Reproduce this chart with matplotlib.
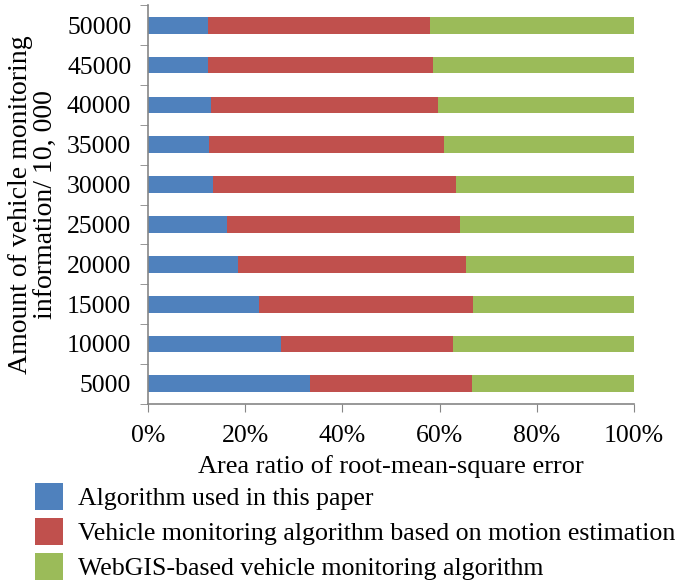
import matplotlib.pyplot as plt
import numpy as np
from matplotlib.patches import Patch

plt.rcParams['font.family'] = ['Liberation Serif', 'DejaVu Serif']

amounts = ['5000', '10000', '15000', '20000', '25000', '30000', '35000', '40000', '45000', '50000']
# shares in percent
ours = [33.3, 27.3, 22.8, 18.5, 16.2, 13.3, 12.5, 13.0, 12.3, 12.3]
motion = [33.4, 35.5, 44.0, 47.0, 48.0, 50.1, 48.5, 46.7, 46.3, 45.8]
webgis = [100 - a - b for a, b in zip(ours, motion)]

names = ['Algorithm used in this paper',
         'Vehicle monitoring algorithm based on motion estimation',
         'WebGIS-based vehicle monitoring algorithm']
colors = ['#4F81BD', '#C0504D', '#9BBB59']

fig = plt.figure(figsize=(6.85, 5.86), dpi=100)
ax = fig.add_axes([0.216, 0.311, 0.7095, 0.680])

y = np.arange(len(amounts))
left = np.zeros(len(amounts))
for vals, col in zip([ours, motion, webgis], colors):
    ax.barh(y, vals, left=left, height=0.42, color=col)
    left = left + np.array(vals)

ax.set_xlim(0, 100)
ax.set_ylim(-0.5, len(amounts) - 0.5)
ax.set_xticks(np.arange(0, 101, 20))
ax.set_xticklabels([f'{v}%' for v in range(0, 101, 20)])
ax.set_yticks(y)
ax.set_yticklabels(amounts)
ax.set_yticks(np.arange(-0.5, len(amounts), 1), minor=True)
ax.tick_params(axis='y', which='major', length=0, pad=12, labelsize=18.5)
ax.tick_params(axis='y', which='minor', length=6, color='#868686')
ax.tick_params(axis='x', length=6, color='#868686', pad=9, labelsize=18.5)

for s in ['top', 'right']:
    ax.spines[s].set_visible(False)
for s in ['left', 'bottom']:
    ax.spines[s].set_color('#868686')
    ax.spines[s].set_linewidth(1.2)

ax.set_xlabel('Area ratio of root-mean-square error', fontsize=19, labelpad=6)
ax.set_ylabel('Amount of vehicle monitoring\ninformation/ 10, 000', fontsize=20,
              labelpad=6, linespacing=1.05)

handles = [Patch(facecolor=c) for c in colors]
fig.legend(handles, names, loc='upper left', bbox_to_anchor=(0.051, 0.176),
           frameon=False, fontsize=18.6, handlelength=1.07, handleheight=1.25,
           handletextpad=0.6, labelspacing=0.3, borderpad=0, borderaxespad=0)

fig.savefig('out.png', dpi=100)
